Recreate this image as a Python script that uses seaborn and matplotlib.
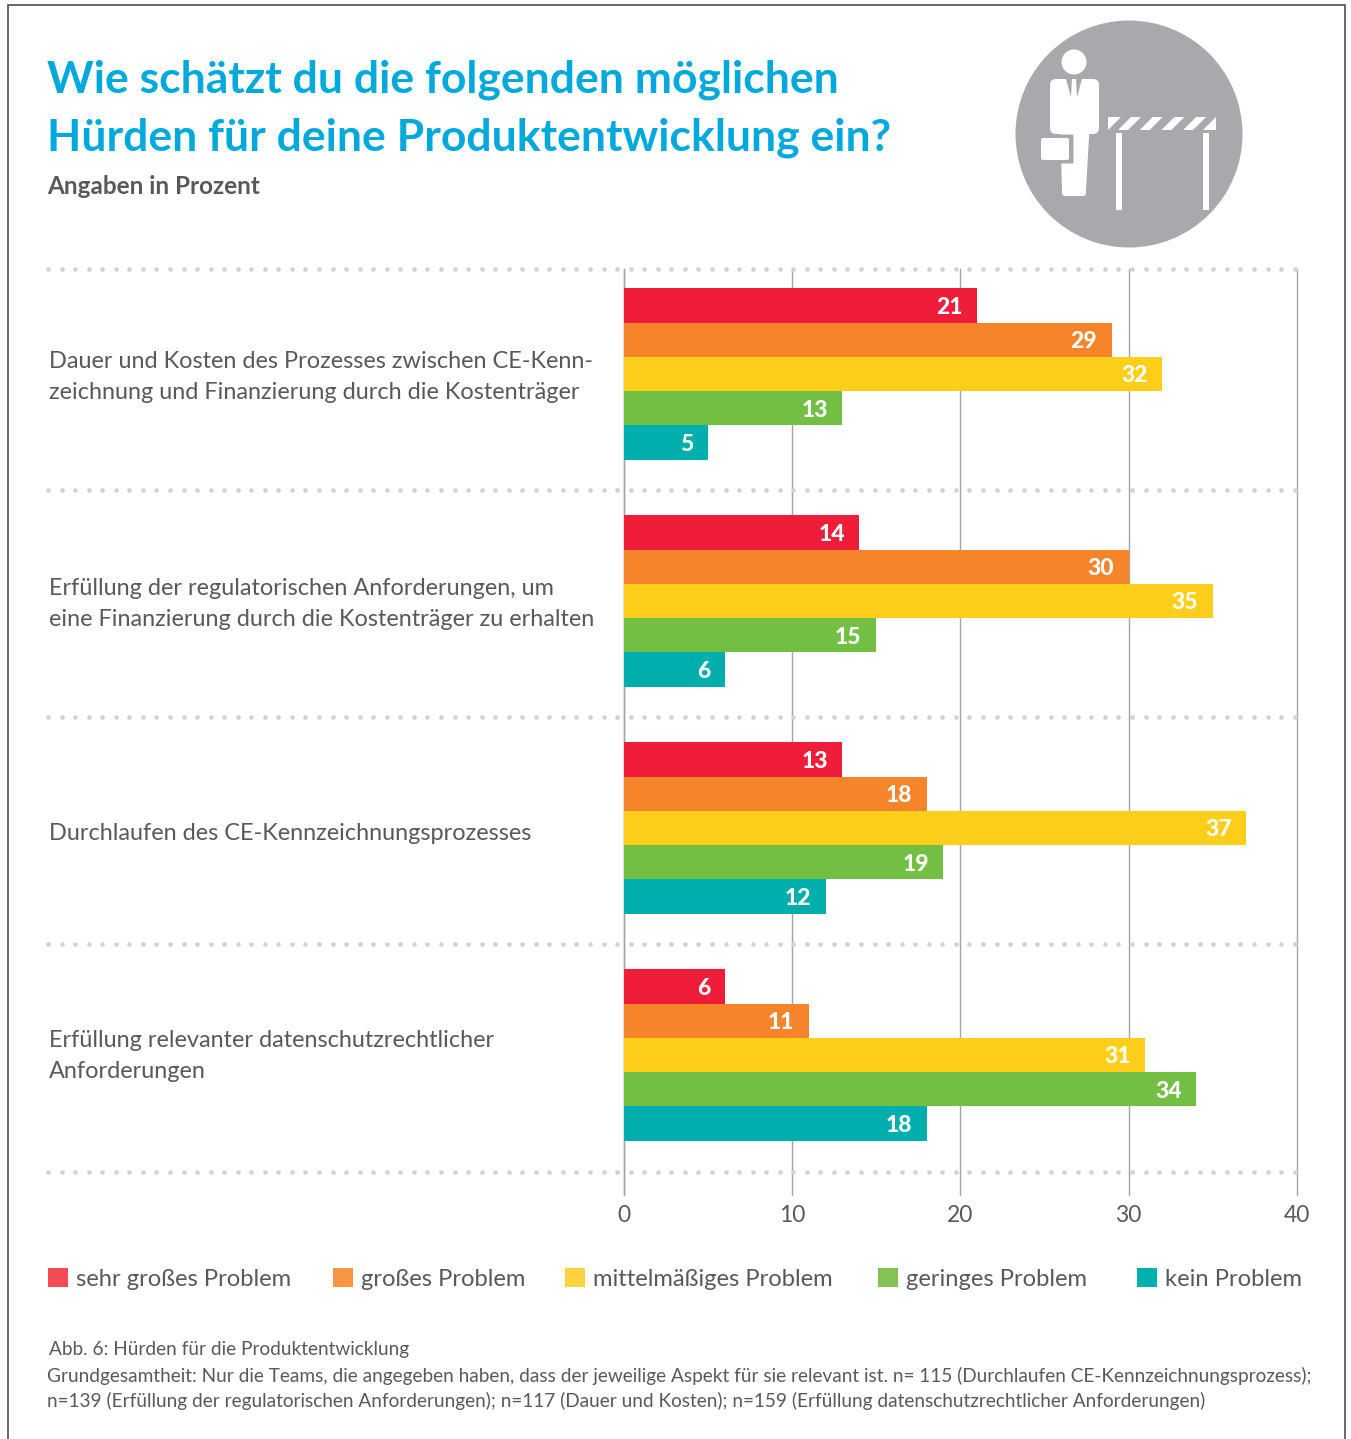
import pandas as pd
import matplotlib.pyplot as plt
from matplotlib.patches import Circle, Polygon, Rectangle, FancyBboxPatch
import seaborn as sns

sns.set_theme(style = 'white')
plt.rcParams['font.family'] = ['Lato', 'DejaVu Sans']

W, H = 1351, 1439

categories = [
    'Dauer und Kosten des Prozesses zwischen CE-Kenn-\nzeichnung und Finanzierung durch die Kostenträger',
    'Erfüllung der regulatorischen Anforderungen, um\neine Finanzierung durch die Kostenträger zu erhalten',
    'Durchlaufen des CE-Kennzeichnungsprozesses',
    'Erfüllung relevanter datenschutzrechtlicher\nAnforderungen',
]
levels = ['sehr großes Problem', 'großes Problem', 'mittelmäßiges Problem', 'geringes Problem', 'kein Problem']

sehr_gross = [21, 14, 13, 6]
gross = [29, 30, 18, 11]
mittel = [32, 35, 37, 31]
gering = [13, 15, 19, 34]
kein = [5, 6, 12, 18]

bar_colors = ['#EF1C3A', '#F6842B', '#FFCE1A', '#72BF44', '#00AEAE']
legend_colors = ['#F44C54', '#F79642', '#FFD23F', '#84C455', '#00B0B0']
legend_x = [48, 333, 565, 878, 1137]
x_ticks = [0, 10, 20, 30, 40]
separators = [269, 490, 717, 944, 1172]
label_y = [377, 604, 833, 1056]

title_lines = ['Wie schätzt du die folgenden möglichen', 'Hürden für deine Produktentwicklung ein?']
subtitle = 'Angaben in Prozent'
notes = [
    (49, 1350, 'Abb. 6: Hürden für die Produktentwicklung'),
    (47, 1376, 'Grundgesamtheit: Nur die Teams, die angegeben haben, dass der jeweilige Aspekt für sie relevant ist. n= 115 (Durchlaufen CE-Kennzeichnungsprozess);'),
    (47, 1401, 'n=139 (Erfüllung der regulatorischen Anforderungen); n=117 (Dauer und Kosten); n=159 (Erfüllung datenschutzrechtlicher Anforderungen)'),
]

TEXT = '#58595B'
TITLE = '#00A9DC'
GREY = '#A7A9AC'


def build_frame():

    rows = []
    for level, values in zip(levels, [sehr_gross, gross, mittel, gering, kein]):
        for cat, val in zip(categories, values):
            rows.append({'Hürde': cat, 'Stufe': level, 'Prozent': val})

    return pd.DataFrame(rows)


def draw_bars(fig, df):

    # axes box in pixels: x 624-1297, y 269-1195
    ax = fig.add_axes([623.5 / W, 1 - 1195 / H, 673.5 / W, 926 / H])

    sns.barplot(
        data = df, y = 'Hürde', x = 'Prozent', hue = 'Stufe', hue_order = levels, order = categories,
        palette = bar_colors, width = 0.755, gap = 0, saturation = 1, legend = False, linewidth = 0, ax = ax
    )

    ax.set_xlim(0, 40)
    ax.set_ylim(3.617, -0.4626)
    ax.set_xticks(x_ticks)
    ax.set_xlabel('')
    ax.set_ylabel('')
    ax.set_yticklabels([])
    ax.tick_params(axis = 'x', length = 0, pad = 7, labelsize = 16.5, labelcolor = TEXT)
    ax.tick_params(axis = 'y', length = 0)
    ax.set_axisbelow(True)
    ax.grid(axis = 'x', color = '#A3A4A6', linewidth = 1, clip_on = False)
    ax.grid(axis = 'y', visible = False)
    sns.despine(ax = ax, top = True, bottom = True, right = True, left = False)
    ax.spines['left'].set_color('#A3A4A6')
    ax.spines['left'].set_linewidth(1)
    ax.spines['left'].set_zorder(0.5)
    ax.patch.set_alpha(0)

    for container in ax.containers:
        for label in ax.bar_label(container, padding = -10.5, color = 'white', fontsize = 16.5, fontweight = 'black'):
            label.set_ha('right')
            label.xyann = (-10.5, -1.4)

    return ax


def draw_icon(ov):

    white = dict(facecolor = 'white', edgecolor = 'none')

    ov.add_patch(Circle((1129, 134), 113.5, facecolor = GREY, edgecolor = 'none'))

    # person
    ov.add_patch(Circle((1074, 62), 12.5, **white))
    ov.add_patch(FancyBboxPatch((1056, 85), 37, 43, boxstyle = 'round,pad=6', **white))
    ov.add_patch(Polygon([(1060, 120), (1090, 120), (1086, 190), (1062, 190)], **white))
    ov.add_patch(FancyBboxPatch((1065, 184), 18, 9, boxstyle = 'round,pad=3', **white))
    ov.add_patch(Polygon([(1066, 79), (1072, 79), (1071, 97)], facecolor = GREY, edgecolor = 'none'))
    ov.add_patch(Polygon([(1076, 79), (1082, 79), (1077, 97)], facecolor = GREY, edgecolor = 'none'))
    ov.add_patch(FancyBboxPatch((1040, 136), 32, 26, boxstyle = 'round,pad=1.5', facecolor = GREY, edgecolor = 'none'))
    ov.add_patch(FancyBboxPatch((1043, 140), 24, 18, boxstyle = 'round,pad=2', **white))

    # barrier
    ov.add_patch(Polygon([(1108, 117), (1121, 117), (1108, 130)], **white))
    for i in range(4):
        x0 = 1118 + i * 21.7
        ov.add_patch(Polygon([(x0, 130), (x0 + 10, 130), (x0 + 23, 117), (x0 + 13, 117)], **white))
    ov.add_patch(Polygon([(1203, 130), (1216, 130), (1216, 117)], **white))
    ov.add_patch(Rectangle((1116, 133), 6, 77, **white))
    ov.add_patch(Rectangle((1203, 133), 6, 77, **white))


def draw_overlay(fig):

    ov = fig.add_axes([0, 0, 1, 1], zorder = 5)
    ov.set_xlim(0, W)
    ov.set_ylim(H, 0)
    ov.axis('off')

    # page frame, open at the bottom
    ov.plot([8, 8, 1345, 1345], [H, 5, 5, H], color = '#4D4D4F', linewidth = 1.2, solid_joinstyle = 'miter')

    for y, line in zip([79.5, 137.5], title_lines):
        ov.text(47, y, line, color = TITLE, fontsize = 32, fontweight = 'bold', va = 'center', ha = 'left')
    ov.text(47, 186, subtitle, color = TEXT, fontsize = 17.5, fontweight = 'bold', va = 'center', ha = 'left')

    draw_icon(ov)

    # dotted separators
    xs = [48 + 13.55 * i for i in range(93)]
    for y in separators:
        ov.scatter(xs, [y] * len(xs), s = 11, color = '#D1D2D4', linewidths = 0, zorder = 3)

    # question labels, centred on their group
    for y, cat in zip(label_y, categories):
        ov.text(49, y, cat, color = TEXT, fontsize = 16.9, va = 'center', ha = 'left', linespacing = 1.58)

    # legend
    for x, level, color in zip(legend_x, levels, legend_colors):
        ov.add_patch(Rectangle((x, 1268), 20, 19, facecolor = color, edgecolor = 'none'))
        ov.text(x + 28, 1279, level, color = TEXT, fontsize = 17.1, va = 'center', ha = 'left')

    for x, y, line in notes:
        ov.text(x, y, line, color = TEXT, fontsize = 13.66, va = 'center', ha = 'left')


def main() -> None:

    fig = plt.figure(figsize = (W / 100, H / 100), dpi = 100, facecolor = 'white')

    draw_bars(fig, build_frame())
    draw_overlay(fig)

    fig.savefig('out.png', dpi = 100)


if __name__ == '__main__': main()
